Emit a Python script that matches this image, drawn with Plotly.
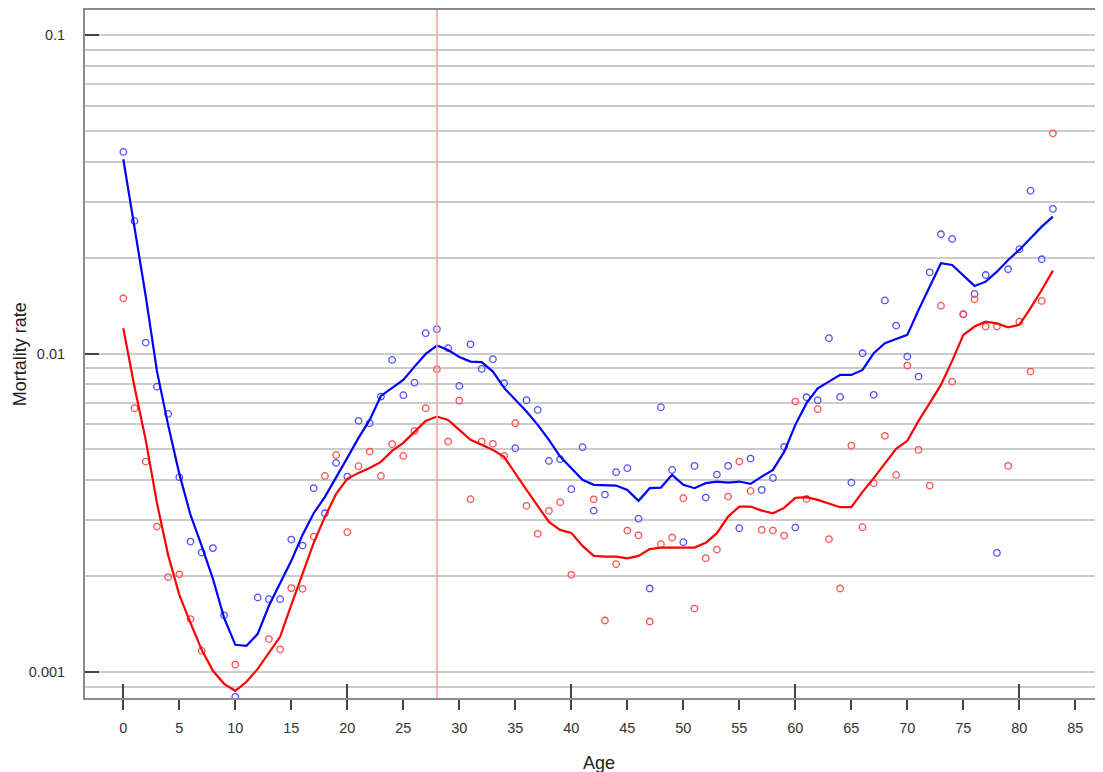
import plotly.graph_objects as go

# ---------------- data ----------------
ages = list(range(0, 84))

# observed mortality rates (None = not shown)
blue_obs = [
    0.04294, 0.02608, 0.01082, 0.007870, 0.006462, 0.004089, 0.002568, 0.002372, 0.002449, 0.001507,
    0.000836, None, 0.001715, 0.001693, 0.001693, 0.002605, 0.002495, 0.003777, 0.003151, 0.004535,
    0.004108, 0.006145, 0.006042, 0.007322, 0.009548, 0.007397, 0.008101, 0.01158, 0.01192, 0.01039,
    0.007910, 0.01069, 0.008948, 0.009596, 0.008066, 0.005045, 0.007134, 0.006652, 0.004601, 0.004657,
    0.003750, 0.005081, 0.003211, 0.003606, 0.004240, 0.004365, 0.003030, 0.001829, 0.006783, 0.004310,
    0.002557, 0.004438, 0.003529, 0.004167, 0.004438, 0.002829, 0.004678, 0.003731, 0.004069, 0.005092,
    0.002842, 0.007290, 0.007134, 0.01117, 0.007306, 0.003934, 0.01002, 0.007416, 0.01468, 0.01224,
    0.009779, 0.008463, 0.01799, 0.02368, 0.02289, 0.01328, 0.01538, 0.01764, 0.002366, 0.01839,
    0.02126, 0.03246, 0.01977, 0.02844,
]
red_obs = [
    0.01491, 0.006734, 0.004578, 0.002862, 0.001986, 0.002026, 0.001466, 0.001167, None, None,
    0.001055, None, None, 0.001269, 0.001178, 0.001834, 0.001825, 0.002662, 0.004128, 0.004804,
    0.002748, 0.004429, 0.004921, 0.004128, 0.005192, 0.004770, 0.005716, 0.006734, 0.008927, 0.005291,
    0.007115, 0.003489, 0.005291, 0.005204, 0.004770, 0.006042, 0.003324, 0.002715, 0.003206, 0.003414,
    0.002019, None, 0.003484, 0.001451, 0.002181, 0.002780, 0.002686, 0.001441, 0.002520, 0.002643,
    0.003514, 0.001582, 0.002278, 0.002424, 0.003555, 0.004578, 0.003704, 0.002794, 0.002780, 0.002682,
    0.007063, 0.003496, 0.006686, 0.002613, 0.001829, 0.005140, 0.002850, 0.003916, 0.005514, 0.004158,
    0.009163, 0.004982, 0.003849, 0.01413, 0.008159, 0.01328, 0.01480, 0.01215, 0.01215, 0.004438,
    0.01259, 0.008774, 0.01462, 0.04914,
]

# smoothed curves
blue_fit = [
    0.04074, 0.02496, 0.01516, 0.008818, 0.005970, 0.004189, 0.003113, 0.002489, 0.001962, 0.001479,
    0.001217, 0.001208, 0.001318, 0.001614, 0.001891, 0.002234, 0.002695, 0.003151, 0.003547, 0.004069,
    0.004702, 0.005434, 0.006189, 0.007359, 0.007780, 0.008259, 0.009097, 0.009970, 0.01059, 0.01026,
    0.009757, 0.009432, 0.009391, 0.008774, 0.007798, 0.007151, 0.006572, 0.005970, 0.005356, 0.004746,
    0.004365, 0.004011, 0.003869, 0.003849, 0.003849, 0.003731, 0.003447, 0.003777, 0.003794, 0.004159,
    0.003869, 0.003777, 0.003916, 0.003963, 0.003934, 0.003963, 0.003897, 0.004108, 0.004310, 0.004910,
    0.005970, 0.006982, 0.007780, 0.008159, 0.008567, 0.008567, 0.008882, 0.01002, 0.01077, 0.01111,
    0.01144, 0.01370, 0.01622, 0.01920, 0.01897, 0.01764, 0.01630, 0.01681, 0.01807, 0.01967,
    0.02115, 0.02301, 0.02502, 0.02690,
]
red_fit = [
    0.01201, 0.007854, 0.005356, 0.003397, 0.002332, 0.001747, 0.001427, 0.001174, 0.001009, 0.000918,
    0.000873, 0.000932, 0.001023, 0.001149, 0.001290, 0.001625, 0.002049, 0.002544, 0.003069, 0.003624,
    0.004040, 0.004219, 0.004374, 0.004569, 0.004946, 0.005240, 0.005674, 0.006143, 0.006339, 0.006189,
    0.005757, 0.005356, 0.005166, 0.004982, 0.004736, 0.004189, 0.003731, 0.003324, 0.002960, 0.002794,
    0.002734, 0.002489, 0.002315, 0.002303, 0.002303, 0.002274, 0.002315, 0.002431, 0.002459, 0.002459,
    0.002459, 0.002459, 0.002544, 0.002729, 0.003076, 0.003307, 0.003307, 0.003211, 0.003151, 0.003276,
    0.003522, 0.003540, 0.003471, 0.003372, 0.003292, 0.003292, 0.003678, 0.004061, 0.004525, 0.005019,
    0.005318, 0.006143, 0.006982, 0.007967, 0.009480, 0.01144, 0.01215, 0.01259, 0.01243, 0.01209,
    0.01230, 0.01388, 0.01583, 0.01820,
]

ref_age = 28
x_ticks = list(range(0, 90, 5))
x_major_ticks = [0, 20, 40, 60, 80]
y_ticks = [0.001, 0.01, 0.1]
y_tick_text = ["0.001", "0.01", "0.1"]
y_minor = [m * 10.0 ** e for e in (-4, -3, -2, -1) for m in range(1, 10)]

BLUE = "#0000ff"
RED = "#ff0000"
FONT = "Liberation Sans, Arial, sans-serif"

fig = go.Figure()

fig.add_trace(go.Scatter(x=ages, y=blue_obs, mode="markers",
                         marker=dict(symbol="circle-open", size=6.5, color="#4d4dff",
                                     line=dict(width=1.3)),
                         hoverinfo="x+y"))
fig.add_trace(go.Scatter(x=ages, y=red_obs, mode="markers",
                         marker=dict(symbol="circle-open", size=6.5, color="#ff4d4d",
                                     line=dict(width=1.3)),
                         hoverinfo="x+y"))
fig.add_trace(go.Scatter(x=ages, y=blue_fit, mode="lines",
                         line=dict(color=BLUE, width=2.2)))
fig.add_trace(go.Scatter(x=ages, y=red_fit, mode="lines",
                         line=dict(color=RED, width=2.2)))
# helper trace on overlay axis carrying the long major ticks
fig.add_trace(go.Scatter(x=ages, y=red_fit, mode="none", xaxis="x2",
                         hoverinfo="skip", showlegend=False))

fig.add_vline(x=ref_age, line=dict(color="#ff9a9a", width=1.5), layer="above")

# the page body adds an 8px offset; margins below compensate for it
fig.update_layout(
    width=1095, height=764,
    margin=dict(l=77, r=0, t=2, b=74),
    paper_bgcolor="white", plot_bgcolor="white",
    showlegend=False,
    font=dict(family=FONT, size=14, color="#333333"),
    xaxis=dict(
        range=[-3.42, 87.47],
        tickvals=x_ticks,
        ticks="outside", ticklen=10, tickwidth=1.5, tickcolor="#444444",
        ticklabelstandoff=6,
        showgrid=False, zeroline=False,
        showline=True, linecolor="#8c8c8c", linewidth=2, mirror=True,
        tickfont=dict(size=14.5, color="#333333"),
    ),
    xaxis2=dict(
        overlaying="x", matches="x", anchor="y", side="bottom",
        tickvals=x_major_ticks,
        ticks="inside", ticklen=14, tickwidth=1.5, tickcolor="#444444",
        showticklabels=False, showgrid=False, zeroline=False, showline=False,
    ),
    yaxis=dict(
        type="log",
        range=[-3.0816, -0.9215],
        tickvals=y_ticks, ticktext=y_tick_text,
        ticks="inside", ticklen=14, tickwidth=1.5, tickcolor="#444444",
        ticklabelstandoff=15,
        showgrid=True, gridcolor="#cccccc", gridwidth=1.6,
        zeroline=False,
        showline=True, linecolor="#8c8c8c", linewidth=2, mirror=False,
        tickfont=dict(size=14.5, color="#333333"),
        minor=dict(tickvals=y_minor, showgrid=True, gridcolor="#cccccc",
                   gridwidth=1.6, ticks=""),
    ),
    annotations=[
        dict(text="Age", xref="paper", yref="paper", x=0.505, y=-0.094,
             xanchor="center", yanchor="middle", showarrow=False,
             font=dict(size=18, color="#222222", family=FONT)),
        dict(text="Mortality rate", xref="paper", yref="paper", x=-0.0635, y=0.5,
             xanchor="center", yanchor="middle", textangle=-90, showarrow=False,
             font=dict(size=18, color="#222222", family=FONT)),
    ],
)

fig.write_html("out.html")
